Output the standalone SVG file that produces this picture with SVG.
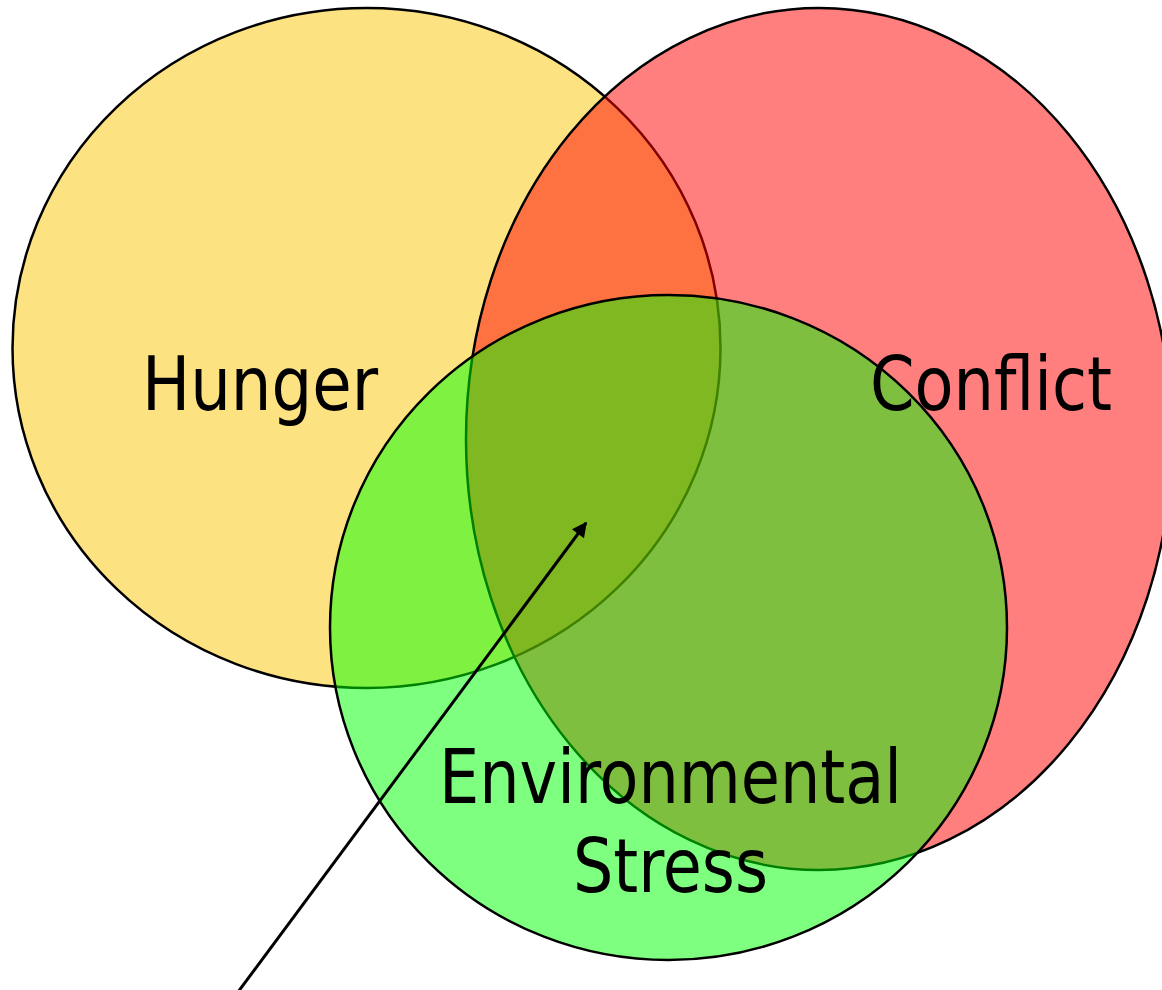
<svg xmlns="http://www.w3.org/2000/svg" width="1162" height="990" viewBox="0 0 1162 990">
<style>
.set{stroke:#000;stroke-width:2.5}
.lbl{font-family:"DejaVu Sans Condensed","DejaVu Sans",sans-serif;font-stretch:condensed;font-size:75px;fill:#000}
.conn{stroke:#000;stroke-width:3;fill:none}
</style>
<defs>
<marker id="ah" viewBox="0 0 10 10" refX="9" refY="5" markerWidth="6" markerHeight="5" markerUnits="strokeWidth" orient="auto">
<path d="M0,0 L10,5 L0,10 z" fill="#000"/>
</marker>
</defs>
<rect width="1162" height="990" fill="#fff"/>
<g id="hunger">
<ellipse class="set" cx="366.5" cy="348" rx="354" ry="340" fill="#FDE282"/>
</g>
<g id="conflict">
<ellipse class="set" cx="819" cy="439" rx="353" ry="431" fill="#FF0000" fill-opacity="0.5"/>
</g>
<g id="environmental-stress">
<ellipse class="set" cx="668.5" cy="627.5" rx="338.5" ry="332.5" fill="#00FF00" fill-opacity="0.5"/>
</g>
<g id="labels">
<text class="lbl" x="142" y="410" textLength="236" lengthAdjust="spacingAndGlyphs">Hunger</text>
<text class="lbl" x="870" y="410" textLength="242" lengthAdjust="spacingAndGlyphs">Conflict</text>
<text class="lbl" x="439" y="803" textLength="463" lengthAdjust="spacingAndGlyphs">Environmental</text>
<text class="lbl" x="573" y="892" textLength="195" lengthAdjust="spacingAndGlyphs">Stress</text>
</g>
<g id="connectors">
<line class="conn" x1="238" y1="992" x2="586" y2="523" marker-end="url(#ah)"/>
</g>
</svg>
